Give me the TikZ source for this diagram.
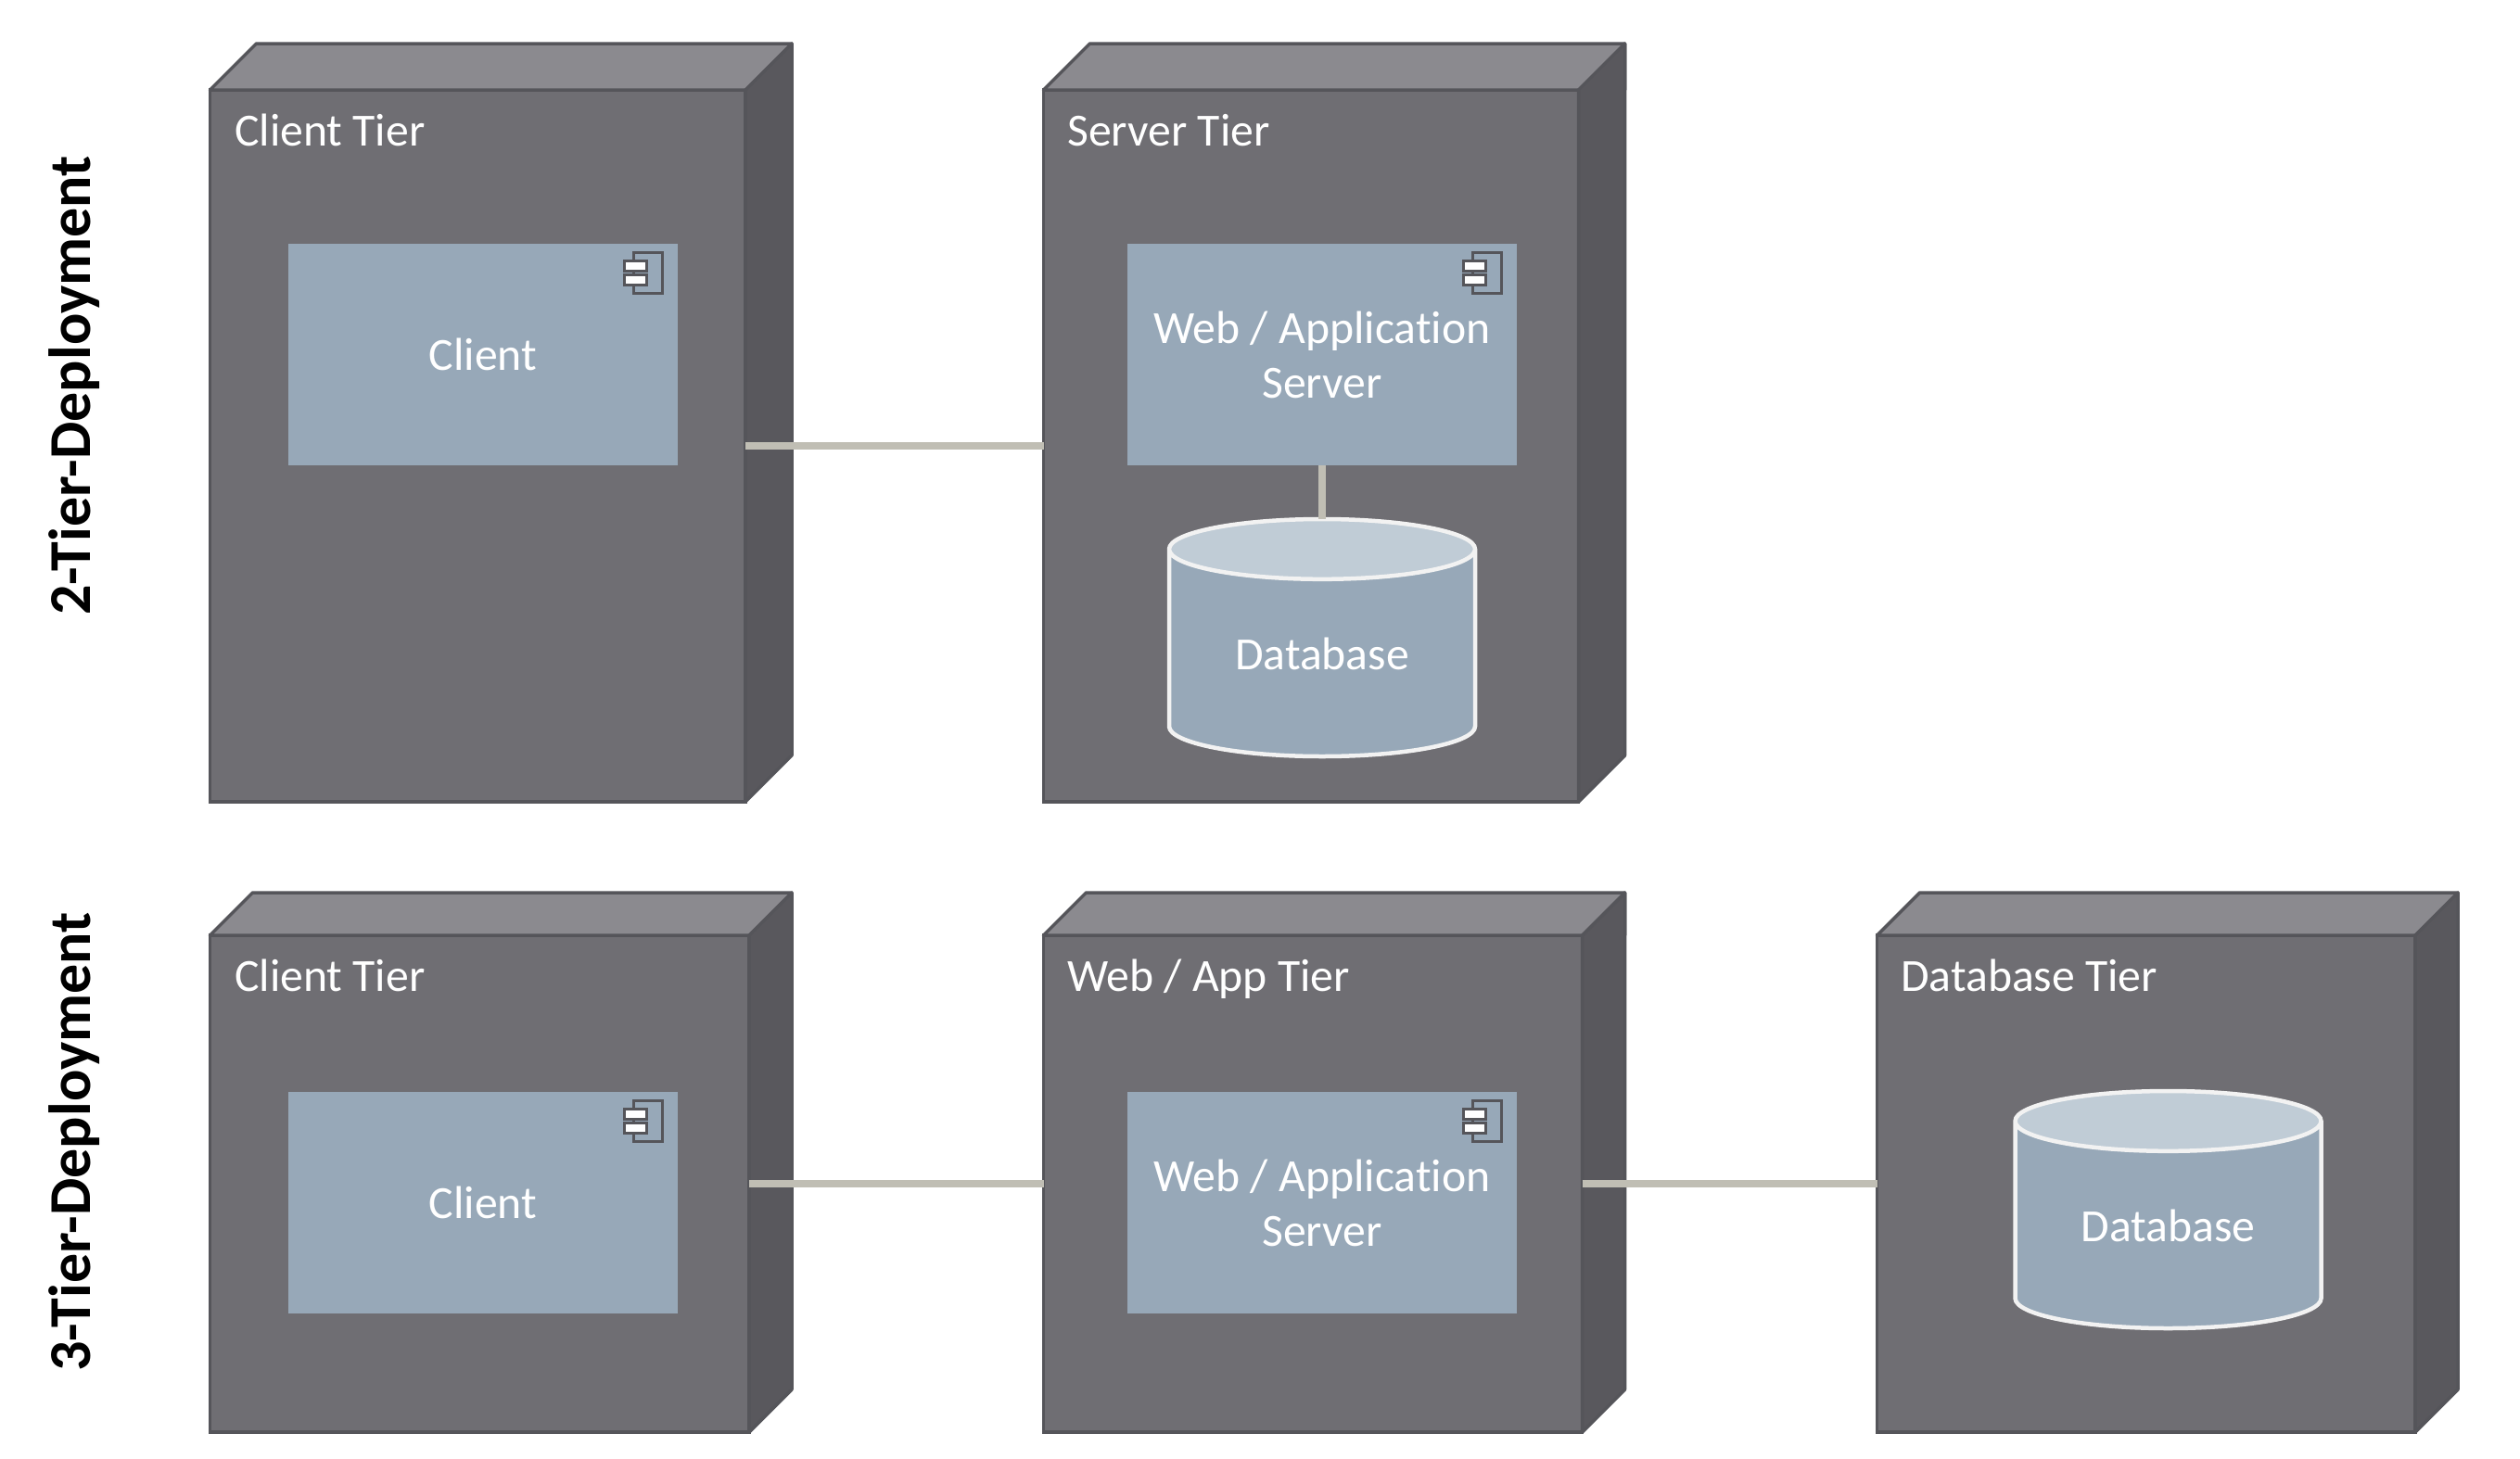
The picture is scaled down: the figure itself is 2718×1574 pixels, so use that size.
\documentclass[tikz,border=0pt]{standalone}
\usepackage{fontspec}
\setmainfont[Ligatures=NoCommon]{Carlito}
\usetikzlibrary{positioning, shapes.geometric}

\definecolor{tierfront}{HTML}{6F6E73}
\definecolor{tiertop}{HTML}{8B8A8F}
\definecolor{tierside}{HTML}{59585D}
\definecolor{tieredge}{HTML}{55555A}
\definecolor{compblue}{HTML}{97A8B8}
\definecolor{dbtop}{HTML}{C0CCD6}
\definecolor{dbedge}{HTML}{F2F2F2}
\definecolor{linkgrey}{HTML}{C0BEB4}

\tikzset{
  tierbox/.style={draw=tieredge, fill=tierfront, line width=3.5pt, inner sep=0pt, outer sep=0pt,
    anchor=north west},
  tierface/.style={draw=tieredge, line width=3.5pt, line join=round},
  tierlabel/.style={text=white, inner sep=0pt, text height=33pt, font=\fontsize{49.7}{59}\selectfont},
  compbox/.style={fill=compblue, inner sep=0pt, outer sep=0pt, minimum width=420pt, minimum height=239pt,
    anchor=north west, text=white, align=center, font=\fontsize{49.7}{59}\selectfont},
  dbnode/.style={cylinder, shape border rotate=90, aspect=0.345, draw=dbedge, line width=4.5pt,
    cylinder uses custom fill, cylinder body fill=compblue, cylinder end fill=dbtop,
    minimum width=330pt, minimum height=256pt, inner sep=0pt, outer sep=0pt, text=white,
    font=\fontsize{49.7}{59}\selectfont},
  linkline/.style={draw=linkgrey, line width=7.5pt},
  sidelabel/.style={rotate=90, inner sep=0pt, font=\fontsize{64}{66}\selectfont\bfseries},
  compicon/.pic={
    \draw[draw=tieredge, line width=3pt] (-48,9) rectangle (-17,53);
    \draw[draw=tieredge, line width=3pt, fill=white] (-58,18) rectangle (-34,29);
    \draw[draw=tieredge, line width=3pt, fill=white] (-58,33) rectangle (-34,44);
  }
}

\begin{document}
\begin{tikzpicture}[x=1pt, y=-1pt]
  \useasboundingbox (0,0) rectangle (2718,1574);

  % Front faces of the five tiers
  \node[tierbox, minimum width=577.5pt, minimum height=768pt] (clienttwo) at (226.5,97) {};
  \node[tierbox, minimum width=577pt, minimum height=768pt] (servertwo) at (1125.5,97) {};
  \node[tierbox, minimum width=581.5pt, minimum height=536pt] (clientthree) at (226.5,1009) {};
  \node[tierbox, minimum width=581pt, minimum height=536pt] (webthree) at (1125.5,1009) {};
  \node[tierbox, minimum width=580.5pt, minimum height=536pt] (dbthree) at (2024.5,1009) {};

  % Top and side faces
  \foreach \tier/\deep in {clienttwo/50, servertwo/50, clientthree/46, webthree/46, dbthree/46} {
    \draw[tierface, fill=tiertop] (\tier.north west) -- ++(\deep,-\deep) -| ([xshift=\deep pt]\tier.north east)
      -- (\tier.north east) -- cycle;
    \draw[tierface, fill=tierside] (\tier.north east) -- ++(\deep,-\deep) -- ([shift={(\deep pt,\deep pt)}]\tier.south east)
      -- (\tier.south east) -- cycle;
  }

  % Tier titles
  \node[tierlabel, below right=27pt and 26.5pt of clienttwo.north west] (clienttwotitle) {Client Tier};
  \node[tierlabel, below right=27pt and 25.5pt of servertwo.north west] (servertwotitle) {Server Tier};
  \node[tierlabel, below right=27pt and 26.5pt of clientthree.north west] (clientthreetitle) {Client Tier};
  \node[tierlabel, below right=27pt and 25.5pt of webthree.north west] (webthreetitle) {Web / App Tier};
  \node[tierlabel, below right=27pt and 25.5pt of dbthree.north west] (dbthreetitle) {Database Tier};

  % Components
  \node[compbox] (clienttwocomp) at (311,263) {Client};
  \node[compbox] (servertwocomp) at (1216,263) {Web / Application\\Server};
  \node[compbox] (clientthreecomp) at (311,1178) {Client};
  \node[compbox] (webthreecomp) at (1216,1178) {Web / Application\\Server};
  \foreach \comp in {clienttwocomp, servertwocomp, clientthreecomp, webthreecomp}
    \pic at (\comp.north east) {compicon};

  % Databases
  \node[dbnode, below=58pt of servertwocomp] (servertwodb) {Database};
  \node[dbnode, anchor=north] (dbthreedb) at (2338.5,1177) {Database};

  % Links
  \draw[linkline] (clienttwo) -- (servertwo);
  \draw[linkline] (clientthree) -- (webthree);
  \draw[linkline] (webthree) -- (dbthree);
  \draw[linkline] (servertwocomp.south) -- (servertwodb.north);

  % Row titles
  \node[sidelabel] (rowtwo) at (80,416) {2-Tier-Deployment};
  \node[sidelabel] (rowthree) at (80,1232) {3-Tier-Deployment};
\end{tikzpicture}
\end{document}
